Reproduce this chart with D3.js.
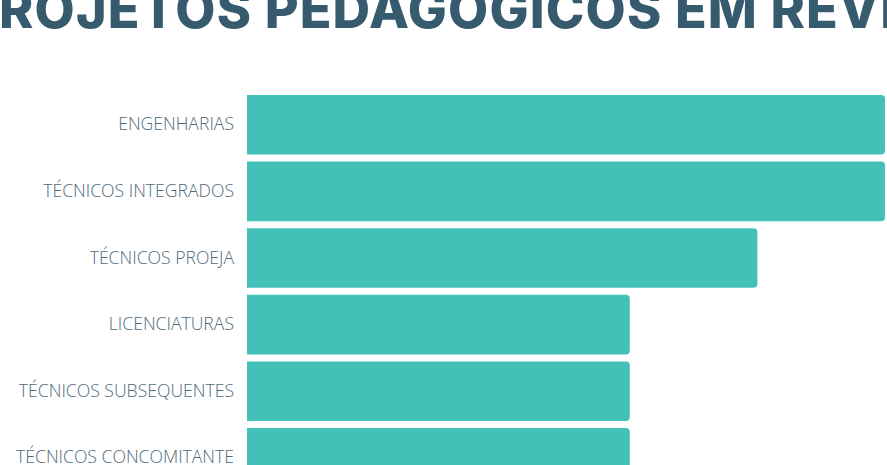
<!DOCTYPE html>
<html>
<head>
<meta charset="utf-8">
<script src="https://cdn.jsdelivr.net/npm/d3@7"></script>
<style>
  body { margin: 0; background: #fff; overflow: hidden; }
  svg { display: block; }
</style>
</head>
<body>
<div id="chart"></div>
<script>
// data
const categories = ["ENGENHARIAS", "TÉCNICOS INTEGRADOS", "TÉCNICOS PROEJA", "LICENCIATURAS", "TÉCNICOS SUBSEQUENTES", "TÉCNICOS CONCOMITANTE"];
const values = [5, 5, 4, 3, 3, 3];
const title = "PROJETOS PEDAGÓGICOS EM REVISÃO";

const width = 887, height = 465;
const svg = d3.select("#chart").append("svg")
    .attr("width", width)
    .attr("height", height);

// title, cut off at the top and both sides like the original
const titleText = svg.append("text")
    .attr("x", 0)
    .attr("y", 28)
    .attr("font-family", "Inter")
    .attr("font-weight", 800)
    .attr("font-size", 52)
    .attr("fill", "#365b6e")
    .text(title);
// fit: "R" (char 1) starts near x=0, "V" (char 26) ends near x=880
const node = titleText.node();
const natStart = node.getStartPositionOfChar(1).x;
const natEnd = node.getEndPositionOfChar(26).x;
const spacing = (880 - (natEnd - natStart)) / 25;
titleText.attr("letter-spacing", spacing);
const newStart = node.getStartPositionOfChar(1).x;
titleText.attr("x", -1 - newStart);

const xScale = d3.scaleLinear()
    .domain([0, 5])
    .range([247, 885]);
const yScale = d3.scaleBand()
    .domain(categories)
    .range([91.5, 91.5 + 6 * 66.6])
    .paddingInner(0.105)
    .paddingOuter(0.0525);

// bar with rounded right corners only
function barPath(x0, x1, y, h, r) {
    return `M${x0},${y}H${x1 - r}Q${x1},${y} ${x1},${y + r}V${y + h - r}Q${x1},${y + h} ${x1 - r},${y + h}H${x0}Z`;
}

svg.append("g").selectAll("path")
    .data(categories)
    .join("path")
    .attr("d", (d, i) => barPath(xScale(0), xScale(values[i]), yScale(d), yScale.bandwidth(), 4))
    .attr("fill", "#43c1b9");

const yAxis = d3.axisLeft(yScale).tickSize(0).tickPadding(0);
const axisG = svg.append("g")
    .attr("transform", "translate(234,0)")
    .call(yAxis);
axisG.select(".domain").remove();
axisG.selectAll("text")
    .attr("font-family", "Open Sans")
    .attr("font-weight", 300)
    .attr("font-size", 17.6)
    .attr("fill", "#4f6a7b");
</script>
</body>
</html>
